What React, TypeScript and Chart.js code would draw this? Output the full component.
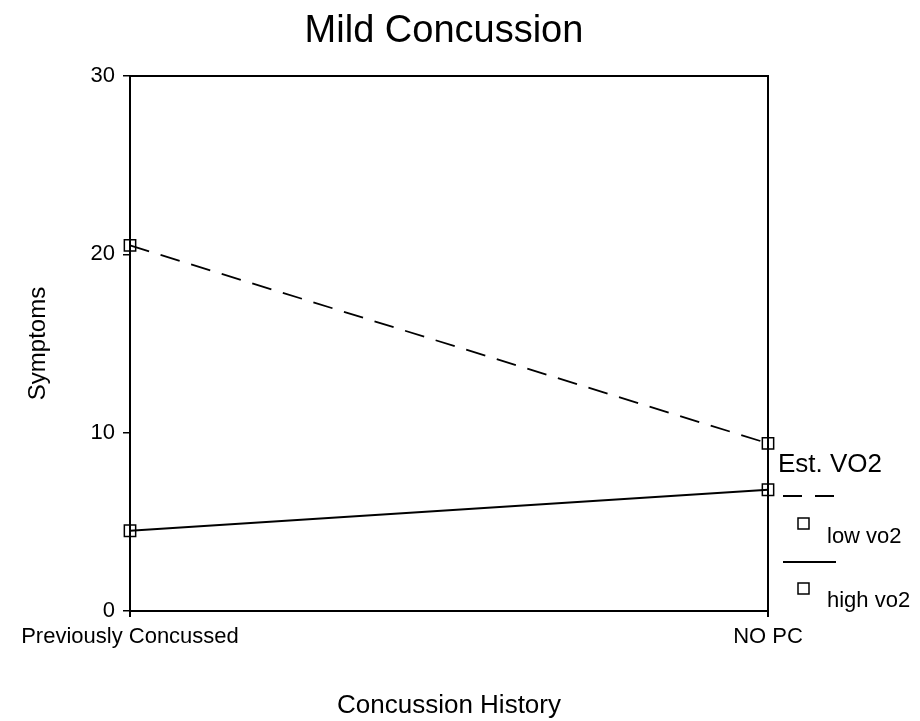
import React, { useEffect, useRef } from "react";
import { Chart, registerables } from "chart.js";

Chart.register(...registerables);

const categories = ["Previously Concussed", "NO PC"];
const lowVo2 = [20.5, 9.4];
const highVo2 = [4.5, 6.8];
const yTicks = [0, 10, 20, 30];
const seriesNames = ["low vo2", "high vo2"];
const legendTitle = "Est. VO2";
const chartTitle = "Mild Concussion";
const xTitle = "Concussion History";
const yTitle = "Symptoms";

const FONT = "'Liberation Sans', Arial, Helvetica, sans-serif";

const extrasPlugin = {
  id: "extras",
  afterDraw(chart: any) {
    const { ctx, chartArea } = chart;
    ctx.save();
    // frame (top and right)
    ctx.strokeStyle = "#000";
    ctx.lineWidth = 2;
    ctx.beginPath();
    ctx.moveTo(chartArea.left, chartArea.top);
    ctx.lineTo(chartArea.right, chartArea.top);
    ctx.lineTo(chartArea.right, chartArea.bottom);
    ctx.stroke();

    // title
    ctx.fillStyle = "#000";
    ctx.font = `38px ${FONT}`;
    ctx.textAlign = "center";
    ctx.textBaseline = "alphabetic";
    ctx.fillText(chartTitle, 444, 42);

    // legend
    ctx.textAlign = "left";
    ctx.font = `26px ${FONT}`;
    ctx.fillText(legendTitle, 778, 472);

    ctx.lineWidth = 1.8;
    ctx.setLineDash([19, 13]);
    ctx.beginPath();
    ctx.moveTo(783, 496);
    ctx.lineTo(836, 496);
    ctx.stroke();
    ctx.setLineDash([]);
    ctx.beginPath();
    ctx.moveTo(783, 562);
    ctx.lineTo(836, 562);
    ctx.stroke();

    ctx.lineWidth = 1.5;
    ctx.strokeRect(798, 518, 11, 11);
    ctx.strokeRect(798, 583, 11, 11);

    ctx.font = `22px ${FONT}`;
    ctx.fillText(seriesNames[0], 827, 543);
    ctx.fillText(seriesNames[1], 827, 607);
    ctx.restore();
  },
};

export default function App() {
  const ref = useRef<HTMLCanvasElement>(null);

  useEffect(() => {
    document.body.style.margin = "0";
    const canvas = ref.current;
    if (!canvas) return;
    Chart.defaults.font.family = FONT;
    Chart.defaults.color = "#000";
    const common = {
      borderColor: "#000",
      borderWidth: 1.8,
      pointStyle: "rect" as const,
      pointRadius: 8,
      pointHoverRadius: 8,
      pointBorderWidth: 1.5,
      pointBorderColor: "#000",
      pointBackgroundColor: "rgba(0,0,0,0)",
      tension: 0,
      fill: false,
      clip: false as any,
    };
    const chart = new Chart(canvas, {
      type: "line",
      data: {
        labels: categories,
        datasets: [
          { label: seriesNames[0], data: lowVo2, borderDash: [20, 12], ...common },
          { label: seriesNames[1], data: highVo2, ...common },
        ],
      },
      options: {
        animation: false,
        responsive: false,
        layout: { padding: { left: 0, top: 76, right: 152, bottom: 0 } },
        plugins: {
          legend: { display: false },
          tooltip: { enabled: false },
          title: { display: false },
        },
        scales: {
          x: {
            type: "category",
            offset: false,
            grid: {
              drawOnChartArea: false,
              drawTicks: true,
              tickLength: 6,
              color: "#000",
              lineWidth: 2,
            },
            border: { display: true, color: "#000", width: 2 },
            ticks: {
              font: { size: 22 },
              color: "#000",
              padding: 7,
              maxRotation: 0,
              autoSkip: false,
            },
            title: {
              display: true,
              text: xTitle,
              font: { size: 26, lineHeight: 1 },
              color: "#000",
              padding: { top: 0, bottom: 2 },
            },
            afterFit: (scale: any) => {
              scale.height = 110;
            },
          },
          y: {
            min: 0,
            max: 30,
            afterBuildTicks: (scale: any) => {
              scale.ticks = yTicks.map((v) => ({ value: v }));
            },
            grid: {
              drawOnChartArea: false,
              drawTicks: true,
              tickLength: 7,
              color: "#000",
              lineWidth: 1.5,
            },
            border: { display: true, color: "#000", width: 2 },
            ticks: {
              font: { size: 22 },
              color: "#000",
              padding: 8,
            },
            title: {
              display: true,
              text: yTitle,
              font: { size: 24, lineHeight: 1 },
              color: "#000",
              padding: { top: 26, bottom: 0 },
            },
            afterFit: (scale: any) => {
              scale.width = 130;
            },
          },
        },
      },
      plugins: [extrasPlugin],
    });
    return () => chart.destroy();
  }, []);

  return (
    <div style={{ width: 920, height: 721, background: "#fff" }}>
      <canvas ref={ref} width={920} height={721} style={{ display: "block" }} />
    </div>
  );
}
